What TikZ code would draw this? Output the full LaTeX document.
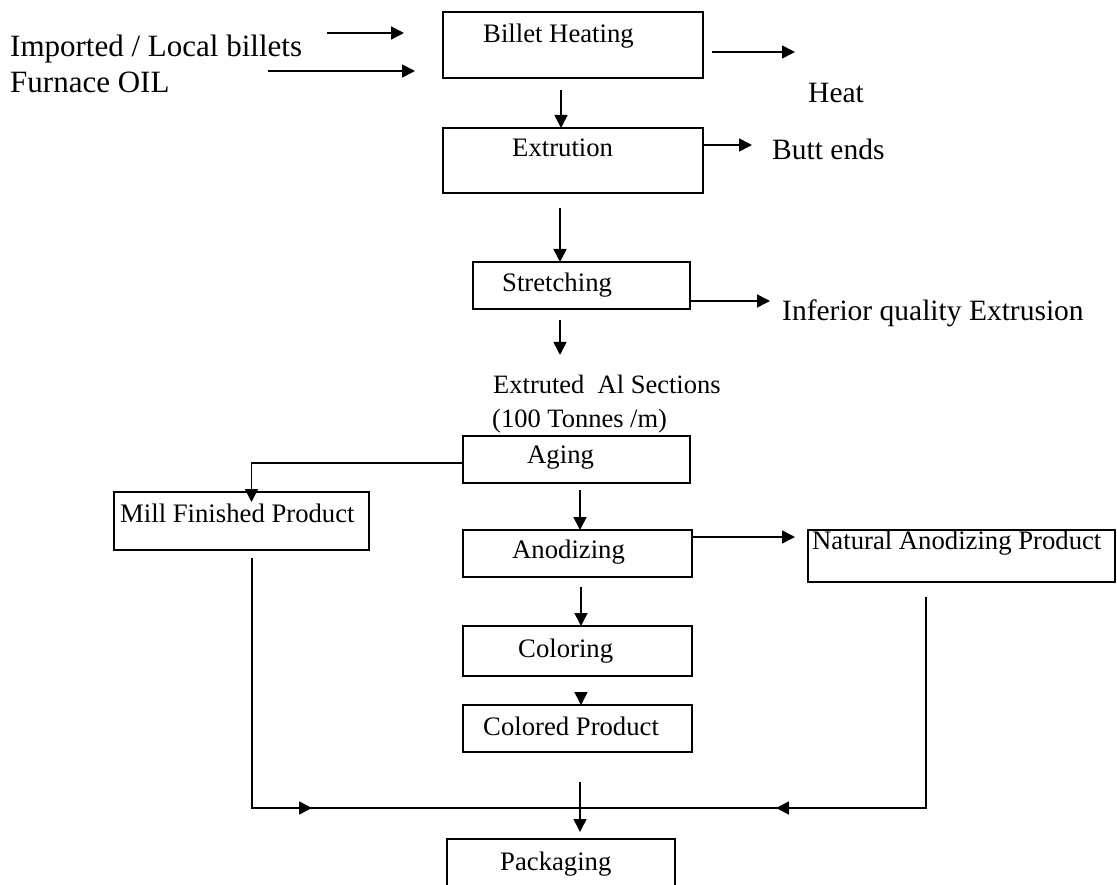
\documentclass[tikz,border=0pt]{standalone}
\usepackage{fontspec}
\setmainfont{Liberation Serif}
\usetikzlibrary{arrows.meta,fit}
\begin{document}
\begin{tikzpicture}[x=1pt,y=-1pt,
  box/.style={draw,line width=1.6pt,inner sep=0pt,outer sep=0pt},
  boxlabel/.style={anchor=base west,inner sep=0pt,font=\fontsize{26.7}{32}\selectfont},
  midlabel/.style={anchor=base west,inner sep=0pt,font=\fontsize{26.5}{32}\selectfont},
  biglabel/.style={anchor=base west,inner sep=0pt,font=\fontsize{29.5}{36}\selectfont},
  arr/.style={line width=1.6pt,-{Triangle[length=13pt,width=13pt]}},
  link/.style={line width=1.6pt}]
\useasboundingbox (0,0) rectangle (1117,885);

% process boxes
\node[box,fit={(443,12) (703,78)}]   (bh) {};
\node[box,fit={(443,128) (703,193)}] (ex) {};
\node[box,fit={(473,262) (690,309)}] (st) {};
\node[box,fit={(463,436) (690,483)}] (ag) {};
\node[box,fit={(114,492) (369,550)}] (mf) {};
\node[box,fit={(463,530) (692,577)}] (an) {};
\node[box,fit={(808,530) (1115,582)}] (na) {};
\node[box,fit={(463,626) (692,676)}] (co) {};
\node[box,fit={(463,705) (692,752)}] (cp) {};
\node[box,fit={(447,839) (675,892)}] (pk) {};

% box captions
\node[boxlabel] (bht) at (483,43)  {Billet Heating};
\node[boxlabel] (ext) at (512,157) {Extrution};
\node[boxlabel] (stt) at (502,292) {Stretching};
\node[boxlabel] (agt) at (527,463) {Aging};
\node[boxlabel] (mft) at (120,522) {Mill Finished Product};
\node[boxlabel] (ant) at (512,558) {Anodizing};
\node[boxlabel] (nat) at (812,549) {Natural Anodizing Product};
\node[boxlabel] (cot) at (518,657) {Coloring};
\node[boxlabel] (cpt) at (483,735) {Colored Product};
\node[boxlabel] (pkt) at (500,870) {Packaging};

% inputs, outputs and intermediate product
\node[biglabel,font=\fontsize{31}{36}\selectfont] (imp) at (10,57) {Imported / Local billets};
\node[biglabel,font=\fontsize{31}{36}\selectfont] (oil) at (10,93) {Furnace OIL};
\node[biglabel] (heat) at (808,103) {Heat};
\node[biglabel] (butt) at (772,160) {Butt ends};
\node[biglabel] (inf) at (782,321) {Inferior quality Extrusion};
\node[midlabel] (sec1) at (493,393) {Extruted\ \ Al Sections};
\node[midlabel] (sec2) at (492,428) {(100 Tonnes /m)};

% feed arrows
\coordinate (in1a) at (327,33);
\coordinate (in1b) at (404,33);
\coordinate (in2a) at (268,71);
\coordinate (in2b) at (415,71);
\draw[arr] (in1a) -- (in1b);
\draw[arr] (in2a) -- (in2b);

% main line
\draw[arr] ([xshift=9pt,yshift=-7pt]bh.east) -- +(83,0);
\draw[arr] ([xshift=-12pt,yshift=-12pt]bh.south) -- ([xshift=-12pt]ex.north);
\draw[arr] ([yshift=15.5pt]ex.east) -- +(49,0);
\draw[arr] ([xshift=-13pt,yshift=-15pt]ex.south) -- ([xshift=-21.5pt]st.north);
\draw[arr] ([yshift=-15.5pt]st.east) -- +(80,0);
\draw[arr] ([xshift=-21.5pt,yshift=-11pt]st.south) -- +(0,35);

% branches after aging
\draw[arr] ([yshift=-3.5pt]ag.west) -| ([xshift=10pt,yshift=-10pt]mf.north);
\draw[arr] ([xshift=3.5pt,yshift=-7pt]ag.south) -- ([xshift=2.5pt]an.north);
\draw[arr] ([yshift=16.5pt]an.east) -- ([xshift=-13pt,yshift=19pt]na.west);
\draw[arr] ([xshift=3.5pt,yshift=-10pt]an.south) -- ([xshift=3.5pt]co.north);
\draw[arr] ([xshift=3.5pt,yshift=-16pt]co.south) -- ([xshift=3.5pt]cp.north);
\draw[arr] ([xshift=2.5pt,yshift=-30pt]cp.south) -- ([xshift=19pt,yshift=7pt]pk.north);

% collecting line to packaging
\coordinate (mergeL) at (252,808);
\coordinate (mergeR) at (926,808);
\draw[link] ([xshift=10.5pt,yshift=-8pt]mf.south) -- (mergeL) -- (mergeR)
  -- ([xshift=-35.5pt,yshift=-15pt]na.south);
\draw[arr] (mergeL) -- +(60,0);
\draw[arr] (mergeR) -- +(-150,0);
\end{tikzpicture}
\end{document}
